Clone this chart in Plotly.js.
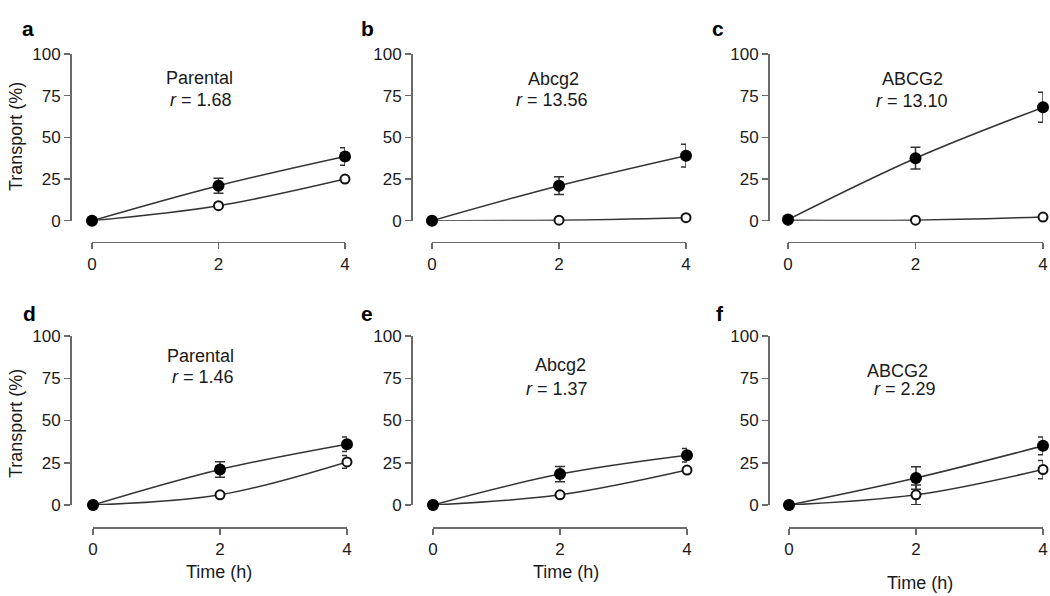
<!DOCTYPE html>
<html>
<head>
<meta charset="utf-8">
<script src="https://cdn.plot.ly/plotly-3.0.1.min.js"></script>
<style>
  html, body { margin: 0; padding: 0; background: #ffffff; }
  #chart { width: 1050px; height: 596px; }
</style>
</head>
<body>
<div id="chart"></div>
<script>
// ---------------- DATA ----------------
const timeHours = [0, 2, 4];
const xTickLabels = ['0', '2', '4'];
const yTickValues = [0, 25, 50, 75, 100];
const yTickLabels = ['0', '25', '50', '75', '100'];

const panelLetters = ['a', 'b', 'c', 'd', 'e', 'f'];
const cellLines = ['Parental', 'Abcg2', 'ABCG2', 'Parental', 'Abcg2', 'ABCG2'];
const ratioValues = ['1.68', '13.56', '13.10', '1.46', '1.37', '2.29'];

// filled circles (one direction), open circles (opposite direction)
const filledA = [0, 21, 38.5];   const filledErrA = [0, 4.5, 5.2];
const openA   = [0, 9, 25];      const openErrA   = [0, 0, 0];
const filledB = [0, 21, 39];     const filledErrB = [0, 5.3, 6.8];
const openB   = [0, 0.3, 1.8];   const openErrB   = [0, 0, 0];
const filledC = [0.7, 37.5, 68]; const filledErrC = [0, 6.5, 9];
const openC   = [0.3, 0.3, 2.2]; const openErrC   = [0, 0, 0];
const filledD = [0, 21, 36];     const filledErrD = [0, 4.6, 4.3];
const openD   = [0, 6, 25.5];    const openErrD   = [0, 0, 3.8];
const filledE = [0, 18.3, 29.5]; const filledErrE = [0, 4.5, 4];
const openE   = [0, 6, 20.7];    const openErrE   = [0, 0, 0];
const filledF = [0, 16, 35];     const filledErrF = [0, 6.7, 5.3];
const openF   = [0, 6, 21];      const openErrF   = [0, 5.8, 5.4];

const filledSeries = [filledA, filledB, filledC, filledD, filledE, filledF];
const filledErrors = [filledErrA, filledErrB, filledErrC, filledErrD, filledErrE, filledErrF];
const openSeries   = [openA, openB, openC, openD, openE, openF];
const openErrors   = [openErrA, openErrB, openErrC, openErrD, openErrE, openErrF];

// ---------------- LAYOUT (pixel geometry) ----------------
const W = 1050, H = 596;
const fx = px => px / W;
const fy = py => 1 - py / H;

const colX0   = [92, 432, 788, 93, 433, 789];
const colX4   = [345, 686, 1043, 347, 687, 1043];
const yAxisPx = [70, 411, 768, 70, 411, 768];
const rowTop  = [54, 54, 54, 336, 336, 336];
const rowBot  = [220.7, 220.7, 220.7, 505, 505, 505];
const xLinePx = [241.7, 241.7, 241.7, 527, 527, 527];

const axisColor = '#6a6a6a';
const textColor = '#1a1a1a';
const lineColor = '#333333';
const FONT = 'Liberation Sans, Arial, sans-serif';

const data = [];
const layout = {
  width: W, height: H,
  margin: {l: 0, r: 0, t: 0, b: 0},
  paper_bgcolor: '#ffffff',
  plot_bgcolor: 'rgba(0,0,0,0)',
  showlegend: false,
  font: {family: FONT, color: textColor, size: 17},
  annotations: []
};

for (let i = 0; i < 6; i++) {
  const n = i + 1;
  const xa = 'x' + (n === 1 ? '' : n);
  const ya = 'y' + (n === 1 ? '' : n);
  const xKey = 'xaxis' + (n === 1 ? '' : n);
  const yKey = 'yaxis' + (n === 1 ? '' : n);

  layout[xKey] = {
    domain: [fx(colX0[i]), fx(colX4[i])],
    range: [0, 4],
    anchor: 'free',
    position: fy(xLinePx[i]),
    showline: true, linecolor: axisColor, linewidth: 1.5,
    ticks: 'outside', ticklen: 6, tickwidth: 1.5, tickcolor: axisColor,
    tickvals: timeHours, ticktext: xTickLabels,
    tickfont: {family: FONT, size: 17, color: textColor},
    showgrid: false, zeroline: false, fixedrange: true
  };
  layout[yKey] = {
    domain: [fy(rowBot[i]), fy(rowTop[i])],
    range: [0, 100],
    anchor: 'free',
    position: fx(yAxisPx[i]),
    showline: true, linecolor: axisColor, linewidth: 1.5,
    ticks: 'outside', ticklen: 6, tickwidth: 1.5, tickcolor: axisColor,
    tickvals: yTickValues, ticktext: yTickLabels,
    tickfont: {family: FONT, size: 17, color: textColor},
    showgrid: false, zeroline: false, fixedrange: true
  };

  data.push({
    type: 'scatter', mode: 'lines+markers',
    x: timeHours, y: openSeries[i], xaxis: xa, yaxis: ya,
    cliponaxis: false,
    line: {color: lineColor, width: 1.5, shape: 'spline', smoothing: 1},
    marker: {symbol: 'circle', size: 9, color: '#ffffff', line: {color: '#111111', width: 2}},
    error_y: {type: 'data', array: openErrors[i], visible: true,
              color: lineColor, thickness: 1.5, width: 5},
    hoverinfo: 'x+y'
  });
  data.push({
    type: 'scatter', mode: 'lines+markers',
    x: timeHours, y: filledSeries[i], xaxis: xa, yaxis: ya,
    cliponaxis: false,
    line: {color: lineColor, width: 1.5, shape: 'spline', smoothing: 1},
    marker: {symbol: 'circle', size: 12, color: '#000000', line: {color: '#000000', width: 0}},
    error_y: {type: 'data', array: filledErrors[i], visible: true,
              color: lineColor, thickness: 1.5, width: 5},
    hoverinfo: 'x+y'
  });
}

const letterPos = [[28, 29], [367, 28], [718, 28], [29, 313], [367, 313], [720, 313]];
const namePos   = [[199, 78], [553, 79], [912, 79], [200, 356], [560, 365], [897, 371]];
const ratioPos  = [[201, 100], [552, 100], [912, 101], [203, 377], [557, 389], [905, 389]];

for (let i = 0; i < 6; i++) {
  layout.annotations.push({
    xref: 'paper', yref: 'paper', x: fx(letterPos[i][0]), y: fy(letterPos[i][1]),
    xanchor: 'center', yanchor: 'middle', showarrow: false,
    text: '<b>' + panelLetters[i] + '</b>',
    font: {family: FONT, size: 21, color: '#000000'}
  });
  layout.annotations.push({
    xref: 'paper', yref: 'paper', x: fx(namePos[i][0]), y: fy(namePos[i][1]),
    xanchor: 'center', yanchor: 'middle', showarrow: false,
    text: cellLines[i],
    font: {family: FONT, size: 18, color: textColor}
  });
  layout.annotations.push({
    xref: 'paper', yref: 'paper', x: fx(ratioPos[i][0]), y: fy(ratioPos[i][1]),
    xanchor: 'center', yanchor: 'middle', showarrow: false,
    text: '<i>r</i> = ' + ratioValues[i],
    font: {family: FONT, size: 18, color: textColor}
  });
}

const yTitlePos = [[16, 137], [16, 424]];
yTitlePos.forEach(p => layout.annotations.push({
  xref: 'paper', yref: 'paper', x: fx(p[0]), y: fy(p[1]),
  xanchor: 'center', yanchor: 'middle', showarrow: false, textangle: -90,
  text: 'Transport (%)', font: {family: FONT, size: 18, color: textColor}
}));
const xTitlePos = [[219, 572], [566, 572], [920, 583]];
xTitlePos.forEach(p => layout.annotations.push({
  xref: 'paper', yref: 'paper', x: fx(p[0]), y: fy(p[1]),
  xanchor: 'center', yanchor: 'middle', showarrow: false,
  text: 'Time (h)', font: {family: FONT, size: 18, color: textColor}
}));

Plotly.newPlot('chart', data, layout, {staticPlot: true, displayModeBar: false});
</script>
</body>
</html>
